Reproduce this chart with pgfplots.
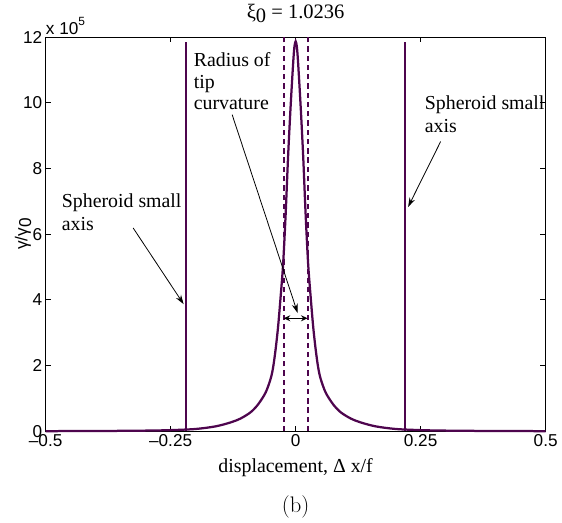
\documentclass[border=0pt]{standalone}
\usepackage{pgfplots}
\pgfplotsset{compat=1.18}
\usetikzlibrary{arrows.meta,calc}
\usepackage{fontspec}
\newfontfamily\tnr{Liberation Serif}
\newfontfamily\arial{Liberation Sans}
\definecolor{purp}{RGB}{78,5,78}

% field enhancement along the tip, in units of 1e5
\pgfplotstableread{
x        y
-0.5     0.004
-0.4     0.008
-0.3     0.02
-0.25    0.035
-0.2     0.07
-0.16    0.15
-0.13    0.27
-0.11    0.39
-0.09    0.58
-0.075   0.82
-0.06    1.18
-0.05    1.6
-0.045   1.95
-0.04    2.5
-0.035   3.2
-0.03    4.1
-0.025   5.1
-0.02    6.6
-0.015   8.4
-0.01    9.9
-0.005   11.2
-0.0025  11.7
0        11.87
0.0025   11.7
0.005    11.2
0.01     9.9
0.015    8.4
0.02     6.6
0.025    5.1
0.03     4.1
0.035    3.2
0.04     2.5
0.045    1.95
0.05     1.6
0.06     1.18
0.075    0.82
0.09     0.58
0.11     0.39
0.13     0.27
0.16     0.15
0.2      0.07
0.25     0.035
0.3      0.02
0.4      0.008
0.5      0.004
}\gamdata

\begin{document}
\begin{tikzpicture}
\begin{axis}[
    scale only axis,
    width=378pt, height=298pt,
    xmin=-0.5, xmax=0.5, ymin=0, ymax=12,
    xtick={-0.5,-0.25,0,0.25,0.5},
    xticklabels={–0.5,–0.25,0,0.25,0.5},
    ytick={0,2,4,6,8,10,12},
    tick align=inside,
    major tick length=4pt,
    tick style={black, line width=0.6pt},
    axis line style={black, line width=0.9pt},
    ticklabel style={font=\arial\fontsize{13}{15}\selectfont},
    /pgf/number format/assume math mode=true,
    xticklabel style={yshift=1pt},
    yticklabel style={xshift=1pt},
    title={\tnr\fontsize{15.5}{17}\selectfont ξ\raisebox{-0.45ex}{0} = 1.0236},
    title style={at={(0.5,1)}, anchor=south, yshift=1pt},
    xlabel={\tnr\fontsize{15}{17}\selectfont displacement, Δ x/f},
    xlabel style={yshift=-2pt},
    ylabel={\arial\fontsize{13}{15}\selectfont γ/γ\raisebox{-0.4ex}{0}},
    ylabel style={yshift=-13pt},
    clip=false,
]
\addplot[purp, line width=1.7pt, smooth] table[x=x, y=y] {\gamdata};
\addplot[purp, line width=1.8pt] coordinates {(-0.219,0) (-0.219,11.85)};
\addplot[purp, line width=1.8pt] coordinates {(0.219,0) (0.219,11.85)};
\addplot[purp, line width=1.5pt, dash pattern=on 4pt off 3pt] coordinates {(-0.024,0) (-0.024,12)};
\addplot[purp, line width=1.5pt, dash pattern=on 4pt off 3pt] coordinates {(0.024,0) (0.024,12)};

% annotations
\begin{scope}[font=\tnr\fontsize{15}{17}\selectfont]
\node[anchor=base west, inner sep=0pt] at (axis cs:-0.204,11.12) {Radius of};
\node[anchor=base west, inner sep=0pt] at (axis cs:-0.204,10.45) {tip};
\node[anchor=base west, inner sep=0pt] at (axis cs:-0.204,9.79) {curvature};
\node[anchor=base west, inner sep=0pt] at (axis cs:-0.468,6.8) {Spheroid small};
\node[anchor=base west, inner sep=0pt] at (axis cs:-0.468,6.1) {axis};
\node[anchor=base west, inner sep=0pt] at (axis cs:0.258,9.8) {Spheroid small};
\node[anchor=base west, inner sep=0pt] at (axis cs:0.258,9.1) {axis};
\end{scope}
\draw[black, line width=0.6pt, -{Stealth[length=7pt,width=4.5pt]}] (axis cs:-0.127,9.64) -- (axis cs:0.004,3.6);
\draw[black, line width=1pt, {Stealth[length=5pt,width=4.5pt]}-{Stealth[length=5pt,width=4.5pt]}] (axis cs:-0.024,3.44) -- (axis cs:0.024,3.44);
\draw[black, line width=0.6pt, -{Stealth[length=7pt,width=4.5pt]}] (axis cs:-0.325,6.19) -- (axis cs:-0.224,3.87);
\draw[black, line width=0.6pt, -{Stealth[length=7pt,width=4.5pt]}] (axis cs:0.29,8.82) -- (axis cs:0.225,6.83);
\node[anchor=south west, inner sep=0pt, font=\arial\fontsize{13}{15}\selectfont] at ($(rel axis cs:0,1)+(0pt,2pt)$) {x 10\raisebox{0.9ex}{\fontsize{9}{10}\selectfont 5}};
\end{axis}
\path ($(current axis.south west)+(-34.5pt,-67.5pt)$) rectangle ($(current axis.north east)+(9pt,26.25pt)$);
\node[font=\fontsize{17}{19}\selectfont, anchor=center] at ($(current axis.south west)!0.5!(current axis.south east)+(0,-57pt)$) {(b)};
\end{tikzpicture}
\end{document}
